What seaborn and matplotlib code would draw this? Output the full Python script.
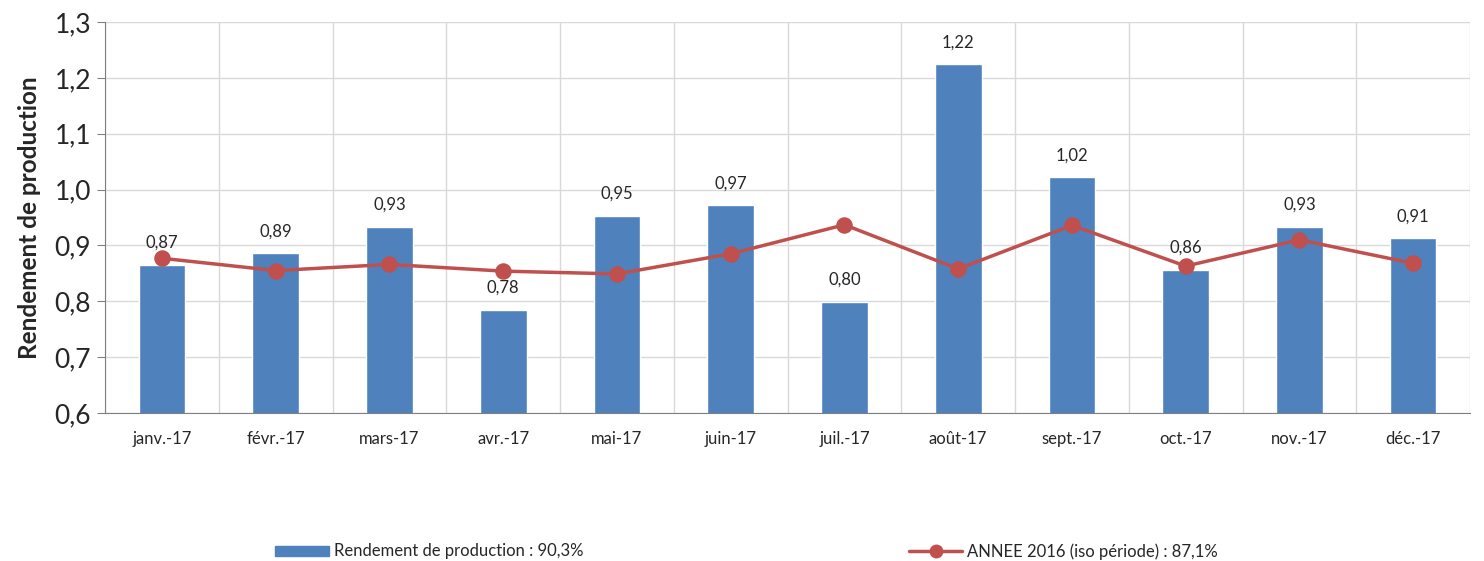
import numpy as np
import pandas as pd
import matplotlib
matplotlib.use("Agg")
import matplotlib.pyplot as plt
import seaborn as sns
from matplotlib.patches import Patch
from matplotlib.lines import Line2D

months = ["janv.-17", "févr.-17", "mars-17", "avr.-17", "mai-17", "juin-17",
          "juil.-17", "août-17", "sept.-17", "oct.-17", "nov.-17", "déc.-17"]
rendement = [0.865, 0.886, 0.933, 0.785, 0.953, 0.972, 0.799, 1.224, 1.022, 0.856, 0.933, 0.913]
annee_2016 = [0.877, 0.855, 0.866, 0.854, 0.849, 0.885, 0.937, 0.858, 0.936, 0.863, 0.910, 0.868]
bar_labels = ["0,87", "0,89", "0,93", "0,78", "0,95", "0,97", "0,80", "1,22", "1,02", "0,86", "0,93", "0,91"]
yticks = [0.6, 0.7, 0.8, 0.9, 1.0, 1.1, 1.2, 1.3]
ytick_labels = ["0,6", "0,7", "0,8", "0,9", "1,0", "1,1", "1,2", "1,3"]

df = pd.DataFrame({"mois": months, "rendement": rendement, "annee": annee_2016})

sns.set_style("white")
plt.rcParams['font.family'] = ['Lato', 'DejaVu Sans']

blue = "#4F81BD"
red = "#C0504D"

fig = plt.figure(figsize=(14.84, 5.61), dpi=100)
ax = fig.add_axes([0.0708, 0.2638, 0.9198, 0.697])

sns.barplot(data=df, x="mois", y="rendement", color=blue, width=0.41,
            saturation=1, ax=ax, zorder=2)
sns.pointplot(data=df, x="mois", y="annee", color=red, markers="o",
              markersize=10, linewidth=2.5, ax=ax, zorder=3)

for i, (v, lab) in enumerate(zip(rendement, bar_labels)):
    ax.annotate(lab, (i, v), xytext=(0, 10), textcoords="offset points",
                ha="center", va="bottom", fontsize=12)

ax.set_ylim(0.6, 1.3)
ax.set_xlim(-0.5, 11.5)
ax.set_yticks(yticks)
ax.set_yticklabels(ytick_labels, fontsize=19)
ax.set_xticks(np.arange(12))
ax.set_xticklabels(months, fontsize=12)
ax.tick_params(axis="x", length=0, pad=13)
ax.set_xticks(np.arange(-0.5, 12, 1), minor=True)
ax.tick_params(axis="x", which="minor", length=6, color="#808080", direction="out")
ax.tick_params(axis="y", length=6, color="#808080", direction="out", left=True, pad=4)
ax.grid(axis="y", color="#d9d9d9", linewidth=1, zorder=0)
ax.grid(axis="x", which="minor", color="#d9d9d9", linewidth=1, zorder=0)
ax.set_axisbelow(True)
for s in ["top", "right"]:
    ax.spines[s].set_visible(False)
for s in ["left", "bottom"]:
    ax.spines[s].set_color("#808080")
ax.set_xlabel("")
ax.set_ylabel("Rendement de production", fontsize=17.5, fontweight="bold", labelpad=10)

leg1 = fig.legend(handles=[Patch(color=blue, label="Rendement de production : 90,3%")],
                  loc="center left", bbox_to_anchor=(0.181, 0.017), frameon=False,
                  fontsize=12, handlelength=3.2, handleheight=0.55, handletextpad=0.3,
                  borderaxespad=0)
leg2 = fig.legend(handles=[Line2D([], [], color=red, marker="o", markersize=9, linewidth=2.5,
                                  label="ANNEE 2016 (iso période) : 87,1%")],
                  loc="center left", bbox_to_anchor=(0.608, 0.017), frameon=False,
                  fontsize=12, handlelength=3.2, handletextpad=0.3, borderaxespad=0)

fig.savefig("out.png", dpi=100)
